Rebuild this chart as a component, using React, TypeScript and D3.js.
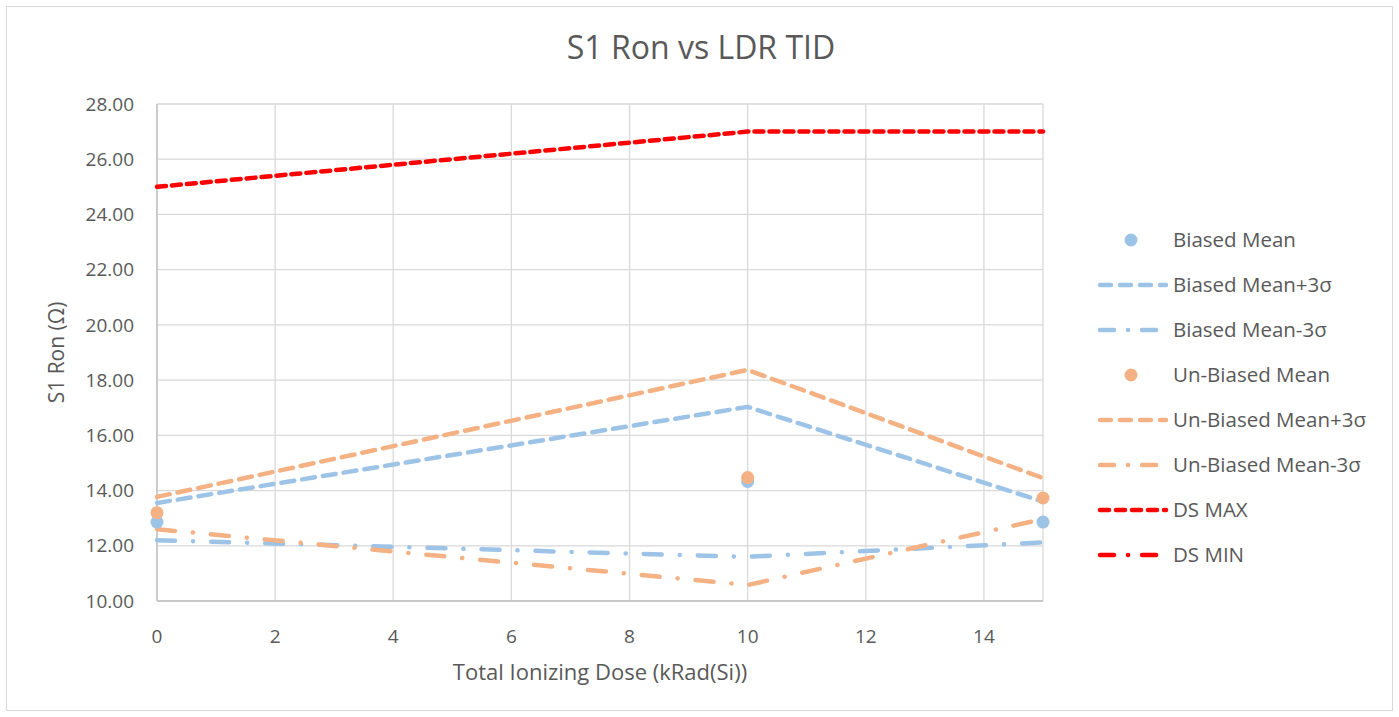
import React, { useRef, useEffect } from 'react';
import * as d3 from 'd3';

const doses = [0, 10, 15];
const biasedMean = [12.86, 14.33, 12.86];
const biasedPlus = [13.55, 17.03, 13.6];
const biasedMinus = [12.2, 11.6, 12.12];
const unbiasedMean = [13.2, 14.47, 13.73];
const unbiasedPlus = [13.77, 18.37, 14.45];
const unbiasedMinus = [12.6, 10.58, 12.97];
const dsMax = [25, 27, 27];
const dsMin = [5, 5, 5];

const xTicks = [0, 2, 4, 6, 8, 10, 12, 14];
const yTicks = [10, 12, 14, 16, 18, 20, 22, 24, 26, 28];

const BLUE = '#9dc3e6';
const ORANGE = '#f4b183';
const RED = '#ff0000';
const TEXT = '#595959';
const FONT = "'Open Sans', 'Noto Sans', sans-serif";

type Series = {
  name: string;
  values: number[];
  color: string;
  kind: 'marker' | 'line';
  dash?: string;
};

const series: Series[] = [
  { name: 'Biased Mean', values: biasedMean, color: BLUE, kind: 'marker' },
  { name: 'Biased Mean+3σ', values: biasedPlus, color: BLUE, kind: 'line', dash: '13,8' },
  { name: 'Biased Mean-3σ', values: biasedMinus, color: BLUE, kind: 'line', dash: '18,18,0.1,18' },
  { name: 'Un-Biased Mean', values: unbiasedMean, color: ORANGE, kind: 'marker' },
  { name: 'Un-Biased Mean+3σ', values: unbiasedPlus, color: ORANGE, kind: 'line', dash: '13,8' },
  { name: 'Un-Biased Mean-3σ', values: unbiasedMinus, color: ORANGE, kind: 'line', dash: '18,18,0.1,18' },
  { name: 'DS MAX', values: dsMax, color: RED, kind: 'line', dash: '9,6' },
  { name: 'DS MIN', values: dsMin, color: RED, kind: 'line', dash: '18,18,0.1,18' },
];

export default function App() {
  const ref = useRef<SVGSVGElement | null>(null);

  useEffect(() => {
    if (!ref.current) return;
    const svg = d3.select(ref.current);
    svg.selectAll('*').remove();

    const left = 157, right = 1043, top = 104, bottom = 601;

    svg.append('rect')
      .attr('x', 6.5).attr('y', 6.5)
      .attr('width', 1386).attr('height', 704)
      .attr('fill', '#fff').attr('stroke', '#d9d9d9');

    const x = d3.scaleLinear().domain([0, 15]).range([left, right]);
    const y = d3.scaleLinear().domain([10, 28]).range([bottom, top]);

    svg.append('defs').append('clipPath').attr('id', 'plot-clip')
      .append('rect')
      .attr('x', left - 10).attr('y', top)
      .attr('width', right - left + 20).attr('height', bottom - top);

    // gridlines
    svg.append('g').selectAll('line').data(yTicks).join('line')
      .attr('x1', left).attr('x2', right)
      .attr('y1', d => y(d)).attr('y2', d => y(d))
      .attr('stroke', '#d9d9d9').attr('stroke-width', 1.3);
    svg.append('g').selectAll('line').data(xTicks).join('line')
      .attr('x1', d => x(d)).attr('x2', d => x(d))
      .attr('y1', top).attr('y2', bottom)
      .attr('stroke', '#d9d9d9').attr('stroke-width', 1.3);
    svg.append('line')
      .attr('x1', right).attr('x2', right).attr('y1', top).attr('y2', bottom)
      .attr('stroke', '#d9d9d9').attr('stroke-width', 1.3);
    // axis lines
    svg.append('line')
      .attr('x1', left).attr('x2', left).attr('y1', top).attr('y2', bottom)
      .attr('stroke', '#bfbfbf').attr('stroke-width', 1.3);
    svg.append('line')
      .attr('x1', left).attr('x2', right).attr('y1', bottom).attr('y2', bottom)
      .attr('stroke', '#bfbfbf').attr('stroke-width', 1.3);

    // tick labels
    svg.append('g').selectAll('text').data(yTicks).join('text')
      .attr('x', 134).attr('y', d => y(d))
      .attr('dy', '0.35em').attr('text-anchor', 'end')
      .attr('font-family', FONT).attr('font-size', 19).attr('fill', TEXT)
      .text(d => d.toFixed(2));
    svg.append('g').selectAll('text').data(xTicks).join('text')
      .attr('x', d => x(d)).attr('y', 636)
      .attr('dy', '0.35em').attr('text-anchor', 'middle')
      .attr('font-family', FONT).attr('font-size', 19).attr('fill', TEXT)
      .text(d => String(d));

    // titles
    svg.append('text')
      .attr('x', 701).attr('y', 48).attr('dy', '0.35em')
      .attr('text-anchor', 'middle')
      .attr('font-family', FONT).attr('font-size', 32).attr('fill', TEXT)
      .text('S1 Ron vs LDR TID');
    svg.append('text')
      .attr('x', (left + right) / 2).attr('y', 672).attr('dy', '0.35em')
      .attr('text-anchor', 'middle')
      .attr('font-family', FONT).attr('font-size', 22).attr('fill', TEXT)
      .text('Total Ionizing Dose (kRad(Si))');
    svg.append('text')
      .attr('transform', `translate(57, ${(top + bottom) / 2}) rotate(-90)`)
      .attr('dy', '0.35em')
      .attr('text-anchor', 'middle')
      .attr('font-family', FONT).attr('font-size', 21).attr('fill', TEXT)
      .text('S1 Ron (Ω)');

    // series
    const plot = svg.append('g').attr('clip-path', 'url(#plot-clip)');
    const line = d3.line<number>()
      .x((_, i) => x(doses[i]))
      .y(d => y(d));

    series.filter(s => s.kind === 'line').forEach(s => {
      plot.append('path')
        .attr('d', line(s.values))
        .attr('fill', 'none')
        .attr('stroke', s.color)
        .attr('stroke-width', 4.5)
        .attr('stroke-linecap', 'round')
        .attr('stroke-linejoin', 'round')
        .attr('stroke-dasharray', s.dash ?? null);
    });
    series.filter(s => s.kind === 'marker').forEach(s => {
      plot.append('g').selectAll('circle').data(s.values).join('circle')
        .attr('cx', (_, i) => x(doses[i]))
        .attr('cy', d => y(d))
        .attr('r', 6.5)
        .attr('fill', s.color);
    });

    // legend
    const legend = svg.append('g');
    series.forEach((s, i) => {
      const ly = 240 + i * 45;
      if (s.kind === 'marker') {
        legend.append('circle')
          .attr('cx', 1131).attr('cy', ly).attr('r', 6.5).attr('fill', s.color);
      } else {
        legend.append('line')
          .attr('x1', 1100).attr('x2', 1166).attr('y1', ly).attr('y2', ly)
          .attr('stroke', s.color).attr('stroke-width', 4.5)
          .attr('stroke-linecap', 'round')
          .attr('stroke-dasharray', s.dash === '13,8' ? '11,9' : s.dash === '9,6' ? '9,7' : '14,14,0.1,14');
      }
      legend.append('text')
        .attr('x', 1173).attr('y', ly).attr('dy', '0.35em')
        .attr('font-family', FONT).attr('font-size', 20.5).attr('fill', TEXT)
        .text(s.name);
    });
  }, []);

  return (
    <svg ref={ref} width={1399} height={717}
      style={{ position: 'absolute', left: 0, top: 0, background: '#fff' }} />
  );
}
